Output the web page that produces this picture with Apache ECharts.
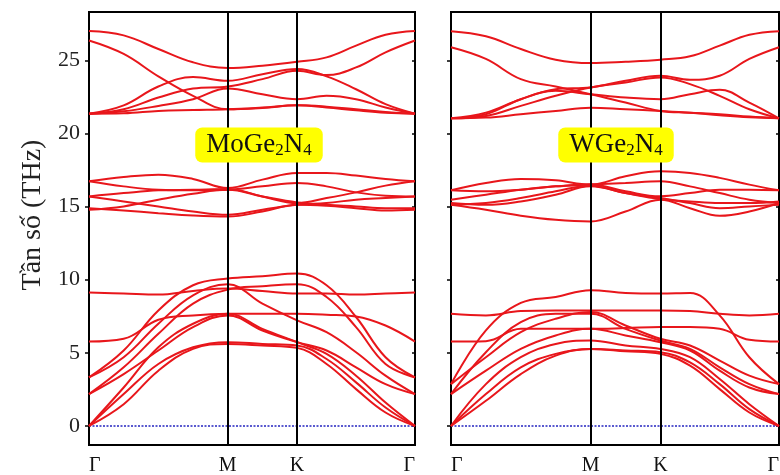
<!DOCTYPE html>
<html>
<head>
<meta charset="utf-8">
<script src="https://cdn.jsdelivr.net/npm/echarts@6.0.0/dist/echarts.min.js"></script>
<style>
  html, body { margin: 0; padding: 0; background: #fff; }
  #chart { width: 780px; height: 475px; }
</style>
</head>
<body>
<div id="chart"></div>
<script>
// k-path sample positions (Γ - M - K - Γ) and labels
const kPath = [0, 0.25, 0.5, 0.75, 1, 1.25, 1.5, 1.7125, 1.925, 2.1375, 2.35];
const kTicks = [0, 1, 1.5, 2.35];
const kLabels = ['Γ', 'M', 'K', 'Γ'];
const freqTicks = [0, 5, 10, 15, 20, 25];
const panelNames = ['MoGe{s|2}N{s|4}', 'WGe{s|2}N{s|4}'];

// MoGe2N4 phonon bands (THz)
const moHigh = [
  [27.0, 26.7, 25.77, 24.86, 24.47, 24.63, 24.9, 25.2, 26.0, 26.74, 27.0],
  [26.35, 25.43, 23.9, 22.57, 21.65, 21.74, 21.92, 21.77, 21.58, 21.42, 21.35],
  [21.35, 21.92, 23.21, 23.85, 23.6, 24.05, 24.4, 23.9, 23.02, 22.0, 21.35],
  [21.35, 21.65, 22.45, 23.07, 23.21, 23.71, 24.28, 23.99, 24.51, 25.54, 26.35],
  [21.35, 21.51, 21.88, 22.34, 23.07, 22.68, 22.34, 22.57, 22.34, 21.77, 21.35],
  [21.35, 21.37, 21.54, 21.6, 21.65, 21.77, 21.92, 21.83, 21.65, 21.47, 21.35]
];
const moMid = [
  [16.73, 17.02, 17.18, 16.89, 16.27, 16.84, 17.3, 17.3, 17.12, 16.89, 16.73],
  [16.73, 16.38, 16.15, 16.11, 16.15, 16.38, 16.61, 16.38, 15.97, 15.74, 15.69],
  [15.69, 15.92, 16.11, 16.15, 16.2, 15.69, 15.24, 15.58, 15.97, 16.43, 16.73],
  [15.69, 15.35, 15.01, 14.66, 14.44, 14.78, 15.12, 15.24, 15.47, 15.58, 15.69],
  [14.89, 14.73, 14.55, 14.39, 14.32, 14.66, 15.12, 15.05, 14.89, 14.73, 14.78],
  [14.78, 15.01, 15.47, 15.88, 16.15, 15.69, 15.28, 15.12, 15.01, 14.89, 14.89]
];
const moLow = [
  [9.12, 9.05, 8.98, 9.23, 9.39, 9.23, 9.05, 9.05, 8.98, 9.05, 9.12],
  [3.32, 5.16, 7.9, 9.62, 10.08, 10.24, 10.42, 9.62, 7.45, 4.7, 3.32],
  [3.32, 4.7, 6.99, 8.93, 9.69, 8.36, 7.22, 6.41, 5.04, 3.44, 2.18],
  [2.18, 4.01, 6.3, 8.36, 9.32, 9.55, 9.69, 8.82, 6.76, 4.24, 3.32],
  [2.18, 3.55, 5.16, 6.76, 7.56, 6.53, 5.73, 5.16, 4.01, 2.86, 2.18],
  [5.77, 5.96, 7.26, 7.56, 7.67, 7.67, 7.67, 7.61, 7.49, 6.87, 5.77],
  [0, 2.63, 5.38, 6.99, 7.67, 6.64, 5.73, 4.93, 3.44, 1.6, 0],
  [0, 2.18, 4.24, 5.38, 5.73, 5.61, 5.5, 4.58, 2.98, 1.26, 0],
  [0, 1.49, 3.78, 5.27, 5.61, 5.5, 5.34, 4.24, 2.52, 0.92, 0]
];

// WGe2N4 phonon bands (THz)
const wHigh = [
  [26.99, 26.64, 25.77, 25.04, 24.81, 24.9, 25.04, 25.27, 26.0, 26.74, 26.99],
  [25.89, 25.09, 23.71, 23.21, 22.68, 22.11, 21.54, 21.42, 21.31, 21.15, 21.03],
  [21.03, 21.42, 22.34, 23.02, 23.14, 23.6, 23.94, 23.67, 23.94, 25.09, 25.89],
  [21.03, 21.19, 21.88, 22.57, 23.14, 23.48, 23.83, 23.37, 22.57, 21.65, 21.03],
  [21.03, 21.31, 22.34, 22.91, 22.68, 22.45, 22.34, 22.68, 22.98, 22.11, 21.03],
  [21.03, 21.08, 21.31, 21.54, 21.76, 21.65, 21.54, 21.42, 21.24, 21.1, 21.03]
];
const wMid = [
  [16.11, 16.61, 16.89, 16.8, 16.5, 17.07, 17.41, 17.3, 16.96, 16.5, 16.11],
  [16.11, 16.04, 16.15, 16.38, 16.5, 16.61, 16.73, 16.38, 15.92, 15.47, 15.24],
  [15.47, 15.81, 16.15, 16.38, 16.5, 16.04, 15.7, 15.92, 16.15, 16.15, 16.11],
  [15.24, 15.12, 15.35, 15.81, 16.38, 15.92, 15.51, 15.35, 15.24, 15.24, 15.35],
  [15.12, 14.78, 14.37, 14.09, 13.98, 14.66, 15.47, 14.89, 14.37, 14.66, 15.24],
  [15.12, 15.24, 15.58, 16.04, 16.43, 15.92, 15.58, 15.24, 14.89, 15.01, 15.12]
];
const wLow = [
  [7.67, 7.56, 7.86, 7.9, 7.9, 7.9, 7.9, 7.86, 7.67, 7.56, 7.67],
  [2.86, 6.53, 8.41, 8.82, 9.28, 9.09, 9.05, 9.09, 7.56, 4.7, 2.86],
  [2.18, 5.04, 7.1, 7.67, 7.67, 6.64, 5.84, 5.27, 4.01, 2.86, 2.18],
  [5.77, 5.8, 6.64, 6.64, 6.64, 6.69, 6.76, 6.76, 6.64, 5.89, 5.77],
  [2.86, 4.7, 6.41, 7.33, 7.79, 6.87, 5.96, 5.5, 4.47, 3.44, 2.86],
  [2.18, 3.78, 5.27, 6.19, 6.64, 6.19, 5.73, 5.16, 3.78, 2.63, 2.18],
  [0, 2.86, 4.7, 5.61, 5.84, 5.5, 5.27, 4.7, 3.21, 1.49, 0],
  [0, 2.18, 4.01, 4.93, 5.27, 5.16, 5.04, 4.35, 2.86, 1.15, 0],
  [0, 1.72, 3.55, 4.81, 5.27, 5.11, 4.93, 4.12, 2.52, 0.92, 0]
];

const FONT = '"Liberation Serif", "Times New Roman", serif';
const RED = '#e8161b';
const Y_MIN = -1.3, Y_MAX = 28.3;

const chart = echarts.init(document.getElementById('chart'));

const grids = [
  { left: 89, top: 12, width: 326, height: 433 },
  { left: 451, top: 12, width: 328, height: 433 }
];

const xAxes = grids.map((g, i) => ({
  type: 'value', gridIndex: i, min: 0, max: 2.35,
  axisLine: { show: false }, splitLine: { show: false },
  axisTick: { show: false },
  axisLabel: {
    customValues: kTicks,
    formatter: v => kLabels[kTicks.indexOf(v)] || '',
    fontFamily: FONT, fontSize: 20, color: '#111', margin: 11,
    alignMinLabel: 'left', alignMaxLabel: 'right'
  }
}));

const yAxes = [];
grids.forEach((g, i) => {
  yAxes.push({
    type: 'value', gridIndex: i, min: Y_MIN, max: Y_MAX, position: 'left',
    axisLine: { show: false }, splitLine: { show: false },
    axisTick: { show: true, customValues: freqTicks, length: 4, lineStyle: { color: '#000', width: 1.5 } },
    axisLabel: {
      show: i === 0, customValues: freqTicks, margin: 9,
      fontFamily: FONT, fontSize: 22, color: '#222'
    }
  });
});
grids.forEach((g, i) => {
  yAxes.push({
    type: 'value', gridIndex: i, min: Y_MIN, max: Y_MAX, position: 'right',
    axisLine: { show: false }, splitLine: { show: false },
    axisTick: { show: true, inside: true, customValues: freqTicks, length: 3, lineStyle: { color: '#000', width: 1.5 } },
    axisLabel: { show: false }
  });
});

const series = [];
const panels = [moHigh.concat(moMid, moLow), wHigh.concat(wMid, wLow)];

panels.forEach((bands, gi) => {
  // zero line + high-symmetry verticals
  series.push({
    type: 'line', xAxisIndex: gi, yAxisIndex: gi, z: 1,
    data: [[0, 0], [2.35, 0]], showSymbol: false, silent: true,
    lineStyle: { color: '#2323c0', width: 1.6, type: [2, 1.5] },
    markLine: {
      symbol: 'none', silent: true, label: { show: false },
      lineStyle: { color: '#000', width: 2, type: 'solid' },
      data: [{ xAxis: kTicks[1] }, { xAxis: kTicks[2] }]
    }
  });
  bands.forEach(b => {
    series.push({
      type: 'line', xAxisIndex: gi, yAxisIndex: gi, z: 3,
      data: b.map((v, j) => [kPath[j], v]),
      showSymbol: false, smooth: 0.4,
      lineStyle: { color: RED, width: 2 }
    });
  });
});

const labelBox = (txt, x) => ({
  type: 'text', x: x, y: 145, z: 100,
  style: {
    text: txt, fill: '#111', fontSize: 27, fontFamily: FONT,
    align: 'center', verticalAlign: 'middle',
    backgroundColor: '#ffff00', borderRadius: 7, padding: [2, 11, 3, 11],
    lineHeight: 30,
    rich: {
      s: { fontSize: 17, fontFamily: FONT, fill: '#111', lineHeight: 14, verticalAlign: 'bottom' }
    }
  }
});

chart.setOption({
  animation: false,
  backgroundColor: '#fff',
  grid: grids.map(g => Object.assign({
    show: true, borderColor: '#000', borderWidth: 2, backgroundColor: 'transparent',
    containLabel: false, outerBoundsMode: 'none'
  }, g)),
  xAxis: xAxes,
  yAxis: yAxes,
  series: series,
  graphic: [
    labelBox(panelNames[0], 259),
    labelBox(panelNames[1], 616),
    {
      type: 'text', x: 33, y: 215, rotation: Math.PI / 2,
      style: {
        text: 'Tần số (THz)', fill: '#222', fontSize: 28, fontFamily: FONT,
        align: 'center', verticalAlign: 'middle'
      }
    }
  ]
});
</script>
</body>
</html>
